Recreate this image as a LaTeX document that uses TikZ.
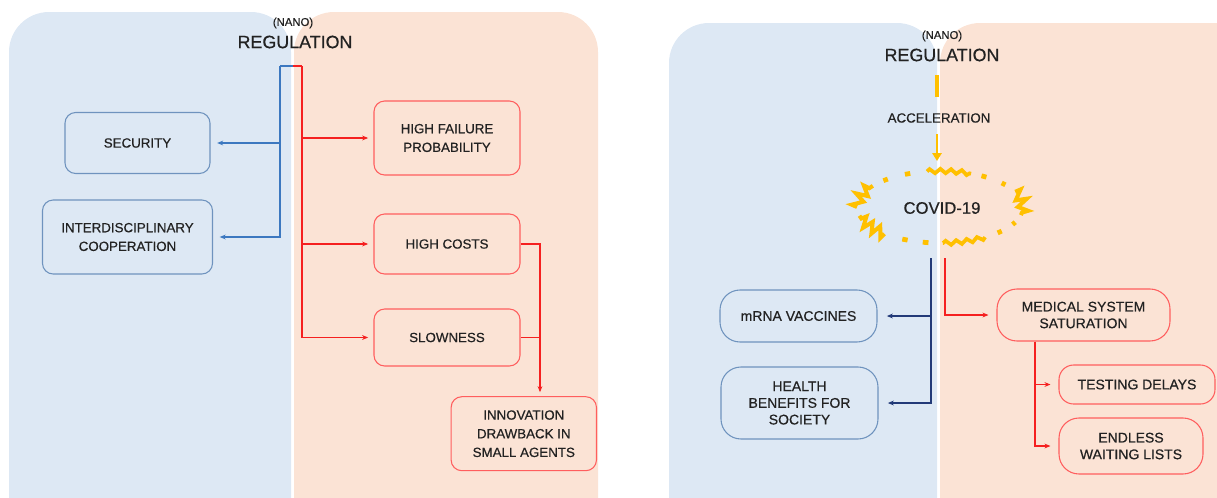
\documentclass[tikz,border=0pt]{standalone}
\usepackage{fontspec}
\setmainfont{Liberation Sans}[FakeBold=0.5]
\usetikzlibrary{arrows.meta,decorations.pathmorphing}

\definecolor{bluebg}{HTML}{DDE8F4}
\definecolor{orangebg}{HTML}{FBE3D5}
\definecolor{boxblue}{HTML}{6F93BE}
\definecolor{lineblue}{HTML}{3C78C0}
\definecolor{navy}{HTML}{223A78}
\definecolor{boxred}{HTML}{FF5E5E}
\definecolor{linered}{HTML}{F52020}
\definecolor{virus}{HTML}{FFC000}
\definecolor{ink}{HTML}{222222}

\tikzset{
  bluebox/.style={draw=boxblue, line width=0.8pt, rounded corners=8pt, align=center,
    text=ink, inner sep=0pt, font=\fontsize{10}{14}\selectfont},
  redbox/.style={draw=boxred, line width=0.8pt, rounded corners=8pt, align=center,
    text=ink, inner sep=0pt, font=\fontsize{10}{14}\selectfont},
  bluebox2/.style={bluebox, rounded corners=15pt, font=\fontsize{10.5}{12.5}\selectfont},
  redbox2/.style={redbox, rounded corners=15pt, font=\fontsize{10.5}{12.5}\selectfont},
  tip/.style={-{Stealth[length=4.5pt,width=3.6pt]}},
  bluelink/.style={draw=lineblue, line width=0.8pt},
  navylink/.style={draw=navy, line width=0.8pt},
  redlink/.style={draw=linered, line width=0.8pt},
  virusline/.style={draw=virus, line width=2.8pt, line cap=butt},
  viruszz/.style={draw=virus, line width=3pt, line join=miter, decorate,
    decoration={zigzag, segment length=7pt, amplitude=4pt}},
  viruswave/.style={draw=virus, line width=2.8pt, line join=miter, decorate,
    decoration={zigzag, segment length=8pt, amplitude=1.6pt}},
  virusdot/.style={draw=virus, line width=3.6pt, line cap=butt},
  title/.style={text=ink, font=\fontsize{13.4}{15}\selectfont, inner sep=1pt},
  subtitle/.style={text=ink, font=\fontsize{8.5}{9}\selectfont, inner sep=1pt},
}

\begin{document}
\begin{tikzpicture}[x=0.75pt, y=-0.75pt]
\useasboundingbox (0,0) rectangle (1217,497);

% background panels
\begin{scope}
  \clip (0,0) rectangle (1217,497);
  \fill[bluebg, rounded corners=30pt] (9,560) rectangle (291,12);
  \fill[orangebg, rounded corners=30pt] (294,560) rectangle (598,12);
  \fill[bluebg, rounded corners=30pt] (669,560) rectangle (937,23);
  \fill[orangebg, rounded corners=30pt] (940,560) rectangle (1280,23);
\end{scope}

% ---------------- left diagram ----------------
\node[subtitle] (nanoL) at (293,23) {(NANO)};
\node[title] (regL) at (295,42) {REGULATION};

\node[bluebox, minimum width=108.75pt, minimum height=45.75pt] (sec) at (137.5,143) {SECURITY};
\node[bluebox, minimum width=127.5pt, minimum height=55.5pt] (inter) at (127.5,237) {INTERDISCIPLINARY\\COOPERATION};

\node[redbox, minimum width=109.5pt, minimum height=55.5pt] (fail) at (447,138) {HIGH FAILURE\\PROBABILITY};
\node[redbox, minimum width=109.5pt, minimum height=45pt] (cost) at (447,244) {HIGH COSTS};
\node[redbox, minimum width=109.5pt, minimum height=42.75pt] (slow) at (447,337.5) {SLOWNESS};
\node[redbox, minimum width=109pt, minimum height=55.5pt] (innov) at (523.8,433.7) {INNOVATION\\DRAWBACK IN\\SMALL AGENTS};

\coordinate (jL) at (293,66);
\coordinate (bL) at (280,66);
\coordinate (rL) at (302,66);
\coordinate (kx) at (540,0);

\draw[bluelink] (jL) -- (bL);
\draw[bluelink, tip, shorten >=5pt] (bL) |- (sec.east);
\draw[bluelink, tip, shorten >=5pt] (bL) |- (inter.east);

\draw[redlink] (jL) -- (rL);
\draw[redlink, tip, shorten >=4pt] (rL) |- (fail.west);
\draw[redlink, tip, shorten >=4pt] (rL) |- (cost.west);
\draw[redlink, tip, shorten >=4pt] (rL) |- (slow.west);

\draw[redlink, tip, shorten >=3pt] (cost.east) -- (cost.east -| kx) -- (kx |- innov.north);
\draw[redlink] (slow.east) -- (slow.east -| kx);

% ---------------- right diagram ----------------
\node[subtitle] (nanoR) at (942,36) {(NANO)};
\node[title] (regR) at (942,55) {REGULATION};
\node[text=ink, font=\fontsize{10}{12}\selectfont, inner sep=1pt] (acc) at (939,118) {ACCELERATION};
\node[text=ink, font=\fontsize{12.5}{14}\selectfont, inner sep=1pt] (covid) at (942,208) {COVID-19};

\coordinate (vx) at (937,0);
\draw[virusline] (vx |- 0,75) -- (vx |- 0,97);
\draw[draw=virus, line width=1.6pt, -{Triangle[length=6pt,width=7pt]}] (vx |- acc.south) ++(0,10) -- (vx |- 0,161);

% burst outline around the virus label
\coordinate (cov) at (940,207);
\draw[viruswave] ([shift={(261:83 and 36)}]cov) arc[start angle=261, end angle=292, x radius=83, y radius=36];
\draw[viruswave] ([shift={(57:83 and 36)}]cov) arc[start angle=57, end angle=88, x radius=83, y radius=36];
\draw[viruszz] ([shift={(180:83 and 36)}]cov) arc[start angle=180, end angle=216, x radius=83, y radius=36];
\draw[viruszz] ([shift={(132:83 and 36)}]cov) arc[start angle=132, end angle=166, x radius=83, y radius=36];
\draw[viruszz] ([shift={(-25:83 and 36)}]cov) arc[start angle=-25, end angle=13, x radius=83, y radius=36];
\foreach \a in {229,247,302,320,27,44,100,115}
  \draw[virusdot] ([shift={(\a-2:83 and 36)}]cov) arc[start angle=\a-2, end angle=\a+2, x radius=83, y radius=36];

\node[bluebox2, minimum width=117.75pt, minimum height=39pt] (mrna) at (798.5,316) {mRNA VACCINES};
\node[bluebox2, minimum width=117.75pt, minimum height=54pt] (health) at (799.5,403) {HEALTH\\BENEFITS FOR\\SOCIETY};
\node[redbox2, minimum width=129.75pt, minimum height=39pt] (med) at (1083.5,315) {MEDICAL SYSTEM\\SATURATION};
\node[redbox2, rounded corners=11pt, minimum width=117pt, minimum height=29.25pt] (test) at (1137,384.5) {TESTING DELAYS};
\node[redbox2, minimum width=108pt, minimum height=42pt] (endless) at (1131,446) {ENDLESS\\WAITING LISTS};

\coordinate (cb) at (931,258);
\coordinate (cr) at (945,258);
\coordinate (mx) at (1035,0);

\draw[navylink, tip, shorten >=7pt] (cb) |- (mrna.east);
\draw[navylink, tip, shorten >=7pt] (cb) |- (health.east);
\draw[redlink, tip, shorten >=6pt] (cr) |- (med.west);
\draw[redlink, tip, shorten >=6pt] (med.south -| mx) |- (test.west);
\draw[redlink, tip, shorten >=6pt] (med.south -| mx) |- (endless.west);
\end{tikzpicture}
\end{document}
